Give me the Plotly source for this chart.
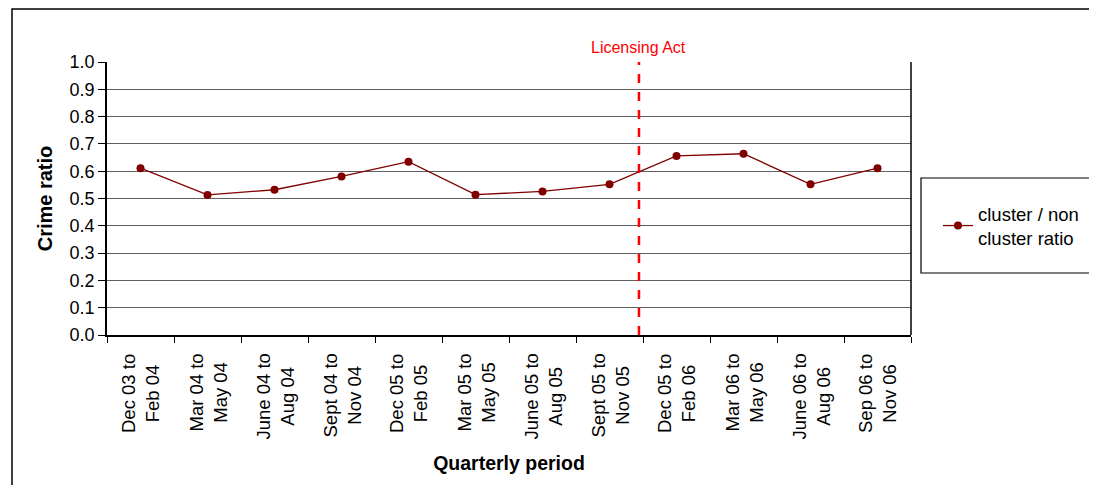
import plotly.graph_objects as go

categories = ["Dec 03 to<br>Feb 04", "Mar 04 to<br>May 04", "June 04 to<br>Aug 04", "Sept 04 to<br>Nov 04",
              "Dec 05 to<br>Feb 05", "Mar 05 to<br>May 05", "June 05 to<br>Aug 05", "Sept 05 to<br>Nov 05",
              "Dec 05 to<br>Feb 06", "Mar 06 to<br>May 06", "June 06 to<br>Aug 06", "Sep 06 to<br>Nov 06"]
ratio = [0.611, 0.513, 0.532, 0.581, 0.635, 0.514, 0.526, 0.552, 0.656, 0.664, 0.552, 0.611]
y_ticks = [0.0, 0.1, 0.2, 0.3, 0.4, 0.5, 0.6, 0.7, 0.8, 0.9, 1.0]
act_position = 7.44

FONT = "Liberation Sans, Arial, sans-serif"
W, H = 1089, 477
L, T, PW, PH = 99, 54, 804, 273
R, B = W - L - PW, H - T - PH

def px_x(px):
    return (px - L) / PW

def px_y(py):
    return (T + PH - py) / PH

fig = go.Figure()
fig.add_trace(go.Scatter(
    x=categories, y=ratio, mode="lines+markers",
    name="cluster / non<br>cluster ratio",
    line=dict(color="#800000", width=1.3),
    marker=dict(color="#800000", size=8),
))

fig.add_shape(type="line", xref="x", yref="paper", x0=act_position, x1=act_position, y0=0, y1=1,
              line=dict(color="#FF0000", width=2.5, dash="dash"))
fig.add_annotation(x=act_position, xref="x", y=1.0, yref="paper", yshift=4, yanchor="bottom",
                   text="Licensing Act", showarrow=False,
                   font=dict(family=FONT, size=16, color="#FF0000"))

# category labels (centre-aligned rotated two-line labels)
for i, c in enumerate(categories):
    fig.add_annotation(x=i, xref="x", y=0, yref="paper", yanchor="top", xanchor="center",
                       yshift=-17, textangle=-90, align="center", showarrow=False,
                       text=c, font=dict(family=FONT, size=18.5, color="#000000"))

# outer border
fig.add_shape(type="rect", xref="paper", yref="paper",
              x0=px_x(4), x1=px_x(W + 20), y0=px_y(H + 20), y1=px_y(1),
              line=dict(color="#000000", width=1.5))
# legend box
fig.add_shape(type="rect", xref="paper", yref="paper",
              x0=px_x(913), x1=px_x(1086), y0=px_y(265), y1=px_y(170),
              line=dict(color="#000000", width=1.2), fillcolor="white", layer="below")
# right frame line
fig.add_shape(type="line", xref="paper", yref="paper", x0=1, x1=1, y0=0, y1=1,
              line=dict(color="#000000", width=1.5))

fig.update_layout(
    width=W, height=H,
    margin=dict(l=L, r=R, t=T, b=B, autoexpand=False),
    paper_bgcolor="white", plot_bgcolor="white",
    font=dict(family=FONT, size=18, color="#000000"),
    showlegend=True,
    legend=dict(x=px_x(930), xanchor="left", y=px_y(218), yanchor="middle",
                borderwidth=0, bgcolor="rgba(0,0,0,0)",
                font=dict(family=FONT, size=18.5)),
    xaxis=dict(
        type="category", categoryorder="array", categoryarray=categories,
        showticklabels=False,
        range=[-0.5, len(categories) - 0.5],
        showgrid=False, showline=True, linecolor="#000000", linewidth=1.5,
        ticks="outside", ticklen=6, tickcolor="#000000", tickson="boundaries",
        zeroline=False, automargin=False,
        title=dict(text="<b>Quarterly period</b>", font=dict(family=FONT, size=19.5), standoff=121),
    ),
    yaxis=dict(
        range=[0, 1.0], tickmode="array", tickvals=y_ticks,
        ticktext=[f"{v:.1f}" for v in y_ticks],
        showgrid=True, gridcolor="#606060", gridwidth=1,
        showline=True, linecolor="#000000", linewidth=1.5,
        ticks="outside", ticklen=7, tickcolor="#000000",
        zeroline=False, automargin=False,
        title=dict(text="<b>Crime ratio</b>", font=dict(family=FONT, size=20), standoff=12),
        tickfont=dict(family=FONT, size=18),
    ),
)

fig.write_html("out.html")
